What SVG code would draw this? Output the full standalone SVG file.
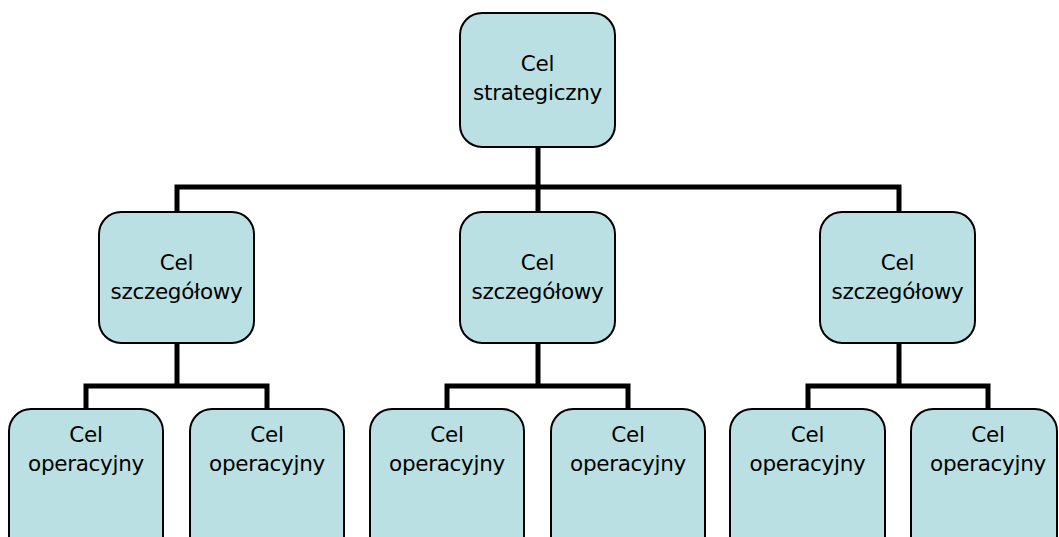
<svg xmlns="http://www.w3.org/2000/svg" width="1059" height="537" viewBox="0 0 1059 537">
<style>
.node rect{fill:#BBE0E3;stroke:#000;stroke-width:2}
.node text{font-family:"DejaVu Sans",Verdana,sans-serif;font-size:21.5px;letter-spacing:-0.3px;fill:#000;text-anchor:middle}
.conn path{fill:none;stroke:#000;stroke-width:5;stroke-linejoin:miter;stroke-linecap:butt}
</style>
<rect width="1059" height="537" fill="#fff"/>
<g id="connectors" class="conn">
<path d="M538 147V212M177 212V187H899V212"/>
<path d="M177 343V386M86 409V386H267V409"/>
<path d="M538 343V386M447 409V386H628V409"/>
<path d="M899 343V386M808 409V386H988V409"/>
</g>
<g id="n-top" class="node"><rect x="460" y="13" width="155" height="134" rx="22"/><text x="537.5" y="71">Cel</text><text x="537.5" y="100">strategiczny</text></g>
<g id="n-s1" class="node"><rect x="99" y="212" width="155" height="131" rx="22"/><text x="176.5" y="270">Cel</text><text x="176.5" y="299">szczegółowy</text></g>
<g id="n-s2" class="node"><rect x="460" y="212" width="155" height="131" rx="22"/><text x="537.5" y="270">Cel</text><text x="537.5" y="299">szczegółowy</text></g>
<g id="n-s3" class="node"><rect x="820" y="212" width="155" height="131" rx="22"/><text x="897.5" y="270">Cel</text><text x="897.5" y="299">szczegółowy</text></g>
<g id="n-o1" class="node"><rect x="9" y="409" width="154" height="150" rx="22"/><text x="86" y="442">Cel</text><text x="86" y="471">operacyjny</text></g>
<g id="n-o2" class="node"><rect x="190" y="409" width="154" height="150" rx="22"/><text x="267" y="442">Cel</text><text x="267" y="471">operacyjny</text></g>
<g id="n-o3" class="node"><rect x="370" y="409" width="154" height="150" rx="22"/><text x="447" y="442">Cel</text><text x="447" y="471">operacyjny</text></g>
<g id="n-o4" class="node"><rect x="551" y="409" width="154" height="150" rx="22"/><text x="628" y="442">Cel</text><text x="628" y="471">operacyjny</text></g>
<g id="n-o5" class="node"><rect x="730" y="409" width="155" height="150" rx="22"/><text x="807.5" y="442">Cel</text><text x="807.5" y="471">operacyjny</text></g>
<g id="n-o6" class="node"><rect x="911" y="409" width="146" height="150" rx="22"/><text x="988" y="442">Cel</text><text x="988" y="471">operacyjny</text></g>
</svg>
